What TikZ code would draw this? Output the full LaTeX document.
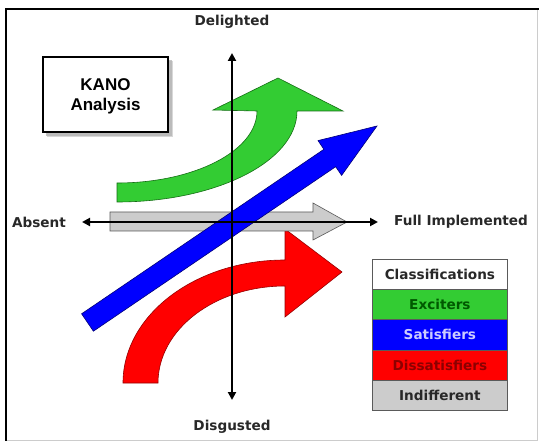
\documentclass[tikz,border=0pt]{standalone}
\usepackage{fontspec}
\setmainfont{DejaVu Sans}
\newfontfamily\kanofont{Liberation Sans}
\usetikzlibrary{arrows.meta}
\definecolor{kgreen}{RGB}{51,204,51}
\definecolor{kgreenline}{RGB}{20,110,20}
\definecolor{kblue}{RGB}{0,0,255}
\definecolor{kblueline}{RGB}{0,0,120}
\definecolor{kred}{RGB}{255,0,0}
\definecolor{kredline}{RGB}{150,0,0}
\definecolor{kgray}{RGB}{204,204,204}
\definecolor{kgrayline}{RGB}{90,90,90}
\definecolor{labelgray}{RGB}{40,40,40}
\tikzset{
  axisline/.style={line width=2pt, black, {Triangle[length=8pt,width=8pt]}-{Triangle[length=8pt,width=8pt]}},
  axislabel/.style={font=\fontsize{13.6}{16}\selectfont\bfseries, text=labelgray, inner sep=0pt},
  rowbox/.style={draw=kgrayline, line width=0.8pt, minimum width=135pt, minimum height=30.2pt, inner sep=0pt, font=\fontsize{13.6}{16}\selectfont\bfseries, anchor=north west},
  kanotext/.style={font=\kanofont\fontsize{17}{20}\selectfont\bfseries, align=center, inner sep=0pt}
}
\begin{document}
\begin{tikzpicture}[x=1pt,y=-1pt]
\useasboundingbox (0,0) rectangle (539,441);
\fill[white] (0,0) rectangle (539,441);
% frame
\draw[gray!40, line width=0.8pt] (537,9) -- (537,440) -- (6,440);
\draw[black, line width=1.6pt] (6,441) -- (6,9) -- (539,9);

% KANO box with shadow
\fill[black!45, opacity=0.5] (46,60) rectangle (172,136);
\fill[black!30, opacity=0.5] (47,61) rectangle (173,137);
\filldraw[fill=white, draw=black, line width=2pt] (43,57) rectangle (168,132);
\node[kanotext] (kano) at (105.5,96.5) {KANO\\Analysis};

% red arrow (dissatisfiers)
\filldraw[fill=kred, draw=kredline, line width=0.6pt]
  (123,383) .. controls (123,315) and (195.5,260) .. (285,260)
  -- (285,229) -- (342,272) -- (285,317) -- (285,286)
  .. controls (215,286) and (158,329.4) .. (158,383) -- cycle;

% gray arrow (indifferent)
\filldraw[fill=kgray, draw=kgrayline, line width=0.6pt]
  (110,212) -- (313,212) -- (313,203) -- (347,222) -- (313,240) -- (313,231) -- (110,231) -- cycle;

% green arrow (exciters)
\filldraw[fill=kgreen, draw=kgreenline, line width=0.6pt]
  (117,183) .. controls (194.3,183) and (257,150.8) .. (257,111)
  -- (213,110) -- (278,78) -- (343,111) -- (297,111)
  .. controls (297,161.3) and (216.4,202) .. (117,202) -- cycle;

% blue arrow (satisfiers)
\filldraw[fill=kblue, draw=kblueline, line width=0.6pt]
  (81.6,313.8) -- (323.9,149.3) -- (318.0,140.6) -- (377,126)
  -- (341.6,175.4) -- (335.7,166.7) -- (93.4,331.2) -- cycle;

% axes
\coordinate (axtop) at (232,53);
\coordinate (axbot) at (232,400);
\coordinate (axleft) at (82,222);
\coordinate (axright) at (378,222);
\draw[axisline] (axbot) -- (axtop);
\draw[axisline] (axleft) -- (axright);

% axis labels
\node[axislabel] (delighted) at (232,22) {Delighted};
\node[axislabel] (disgusted) at (232,427) {Disgusted};
\node[axislabel] (absent) at (39,222) {Absent};
\node[axislabel, anchor=west] (full) at (394,222) {Full Implemented};

% classification table
\node[rowbox, fill=white, text=labelgray] (cls) at (372,259) {Classifications};
\node[rowbox, fill=kgreen, text=green!35!black] (exc) at (372,289.2) {Exciters};
\node[rowbox, fill=kblue, text=blue!20!white] (sat) at (372,319.4) {Satisfiers};
\node[rowbox, fill=kred, text=red!55!black] (dis) at (372,349.6) {Dissatisfiers};
\node[rowbox, fill=kgray, text=labelgray] (ind) at (372,379.8) {Indifferent};
\end{tikzpicture}
\end{document}
